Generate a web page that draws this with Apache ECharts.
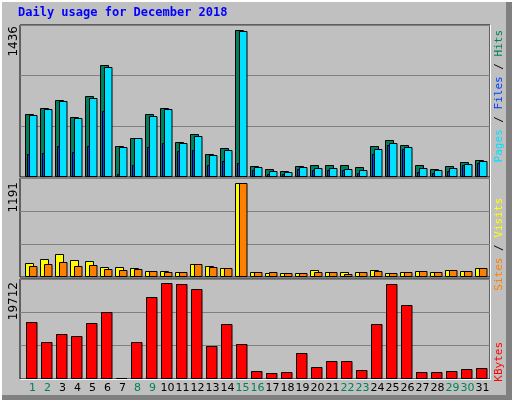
<!DOCTYPE html>
<html><head><meta charset="utf-8">
<script src="https://cdn.jsdelivr.net/npm/echarts@6/dist/echarts.min.js"></script>
<style>html,body{margin:0;padding:0;background:#c0c0c0}#c{width:512px;height:400px}</style>
</head><body><div id="c"></div>
<script>
const days = Array.from({length:31},(_,i)=>String(i+1));
const weekend = [1,2,8,9,15,16,22,23,29,30];
const hits  = [618,676,747,588,786,1088,299,377,618,676,338,416,228,280,1436,104,75,55,104,114,114,114,94,299,357,309,114,75,104,143,163];
const files = [608,666,737,578,766,1068,289,377,598,666,328,396,218,260,1426,94,55,46,94,85,85,75,65,270,328,289,85,65,85,124,153];
const pages = [221,231,299,240,299,640,26,114,289,328,250,260,114,153,133,65,26,26,75,65,65,65,36,221,309,270,46,36,55,114,133];
const visits= [177,228,293,215,202,125,125,112,73,73,60,164,138,112,1191,60,47,47,47,86,60,60,60,86,47,60,73,60,86,73,112];
const sites = [138,164,189,138,151,99,86,99,73,60,60,164,125,112,1191,60,60,47,47,60,60,35,60,73,47,60,73,60,86,73,112];
const kbytes= [11800,7640,9300,8890,11600,13890,150,7640,17000,19712,19500,18470,6800,11390,7220,1600,1190,1400,5350,2440,3690,3690,1810,11390,19500,15350,1400,1400,1600,2020,2230];
const maxLabels = ['1436','1191','19712'];

const chart = echarts.init(document.getElementById('c'));
function barSeries(grid, data, color, x0, x1){
  return {type:'custom', xAxisIndex:grid, yAxisIndex:grid,
    data: data.map((v,i)=>[i+1,v]),
    renderItem:(params,api)=>{
      const p = api.coord([api.value(0), api.value(1)]);
      const b = api.coord([api.value(0), 0]);
      return {type:'rect', shape:{x:Math.round(p[0]+x0)+0.5, y:Math.round(p[1])+0.5, width:x1-x0, height:Math.max(0,Math.round(b[1]-p[1])-1)},
        style:{fill:color, stroke:'#000', lineWidth:1}};
    }};
}
const grids = [
  {left:20, top:25, width:470, height:152},
  {left:20, top:178, width:470, height:99},
  {left:20, top:279, width:470, height:100},
  {left:25, top:379, width:465, height:1}
];
const ymax = [1482, 1251, 20607];
const xAxes = [0,1,2].map(g=>({gridIndex:g, type:'value', min:0.5, max:31.8333, show:false}));
xAxes.push({gridIndex:3, type:'category', data:days, axisLine:{show:false}, axisTick:{show:false},
  axisLabel:{margin:3, interval:0, fontFamily:'DejaVu Sans', fontSize:11,
    formatter:(v)=> weekend.includes(+v)?'{w|'+v+'}':'{n|'+v+'}',
    rich:{w:{color:'#00805c',fontSize:11,fontFamily:'DejaVu Sans'}, n:{color:'#000',fontSize:11,fontFamily:'DejaVu Sans'}}}});
const yAxes = [0,1,2].map(g=>({gridIndex:g, type:'value', min:0, max:ymax[g], interval:ymax[g]/3,
  axisLabel:{show:false}, axisLine:{show:false}, axisTick:{show:false},
  splitLine:{show:true, lineStyle:{color:'#808080', width:1}}}));
yAxes.push({gridIndex:3, type:'value', show:false});
const mono = 'DejaVu Sans Mono';
chart.setOption({
  animation:false,
  backgroundColor:'#c0c0c0',
  grid: grids.map((g,i)=>Object.assign({show:i<3, borderColor:'#000', borderWidth:1, backgroundColor:'transparent'}, g)),
  xAxis:xAxes, yAxis:yAxes,
  series:[
    barSeries(0,hits,'#00805c',-2.5,5.5),
    barSeries(0,files,'#00e0ff',1.5,9),
    barSeries(0,pages,'#0040ff',-0.5,1.5),
    barSeries(1,visits,'#ffff00',-2.5,5.5),
    barSeries(1,sites,'#ff8000',1.5,9),
    barSeries(2,kbytes,'#ff0000',-1.5,9)
  ],
  graphic:[
    {type:'rect', z:-10, shape:{x:0,y:0,width:512,height:400}, style:{fill:'#c0c0c0'}},
    {type:'rect', z:-9, shape:{x:506,y:0,width:6,height:400}, style:{fill:'#808080'}},
    {type:'rect', z:-9, shape:{x:0,y:395,width:512,height:5}, style:{fill:'#808080'}},
    {type:'rect', z:-9, shape:{x:0,y:0,width:2,height:400}, style:{fill:'#ffffff'}},
    {type:'rect', z:-9, shape:{x:0,y:0,width:512,height:2}, style:{fill:'#ffffff'}},
    {type:'line', z:100, shape:{x1:490.5,y1:25,x2:490.5,y2:380}, style:{stroke:'#fff',lineWidth:1}},
    {type:'line', z:100, shape:{x1:20,y1:379.5,x2:491,y2:379.5}, style:{stroke:'#fff',lineWidth:1}},
    {type:'text', left:18, top:7, style:{text:'Daily usage for December 2018', fill:'#0000ff', font:'bold 12px '+mono}},
    {type:'text', x:14, y:26, rotation:Math.PI/2, style:{text:maxLabels[0], fill:'#000', font:'12px DejaVu Sans', align:'right', verticalAlign:'middle'}},
    {type:'text', x:14, y:182, rotation:Math.PI/2, style:{text:maxLabels[1], fill:'#000', font:'12px DejaVu Sans', align:'right', verticalAlign:'middle'}},
    {type:'text', x:14, y:282, rotation:Math.PI/2, style:{text:maxLabels[2], fill:'#000', font:'12px DejaVu Sans', align:'right', verticalAlign:'middle'}},
    {type:'text', x:499, y:30, rotation:Math.PI/2, style:{
      text:'{p|Pages}{s| / }{f|Files}{s| / }{h|Hits}', align:'right', verticalAlign:'middle', font:'11px '+mono,
      rich:{p:{fill:'#00e0ff',font:'11px '+mono}, s:{fill:'#000',font:'11px '+mono}, f:{fill:'#0040ff',font:'11px '+mono}, h:{fill:'#00805c',font:'11px '+mono}}}},
    {type:'text', x:499, y:198, rotation:Math.PI/2, style:{
      text:'{a|Sites}{s| / }{b|Visits}', align:'right', verticalAlign:'middle', font:'11px '+mono,
      rich:{a:{fill:'#ff8000',font:'11px '+mono}, s:{fill:'#000',font:'11px '+mono}, b:{fill:'#ffff00',font:'11px '+mono}}}},
    {type:'text', x:499, y:342, rotation:Math.PI/2, style:{text:'KBytes', fill:'#ff0000', font:'11px '+mono, align:'right', verticalAlign:'middle'}}
  ]
});
</script></body></html>
